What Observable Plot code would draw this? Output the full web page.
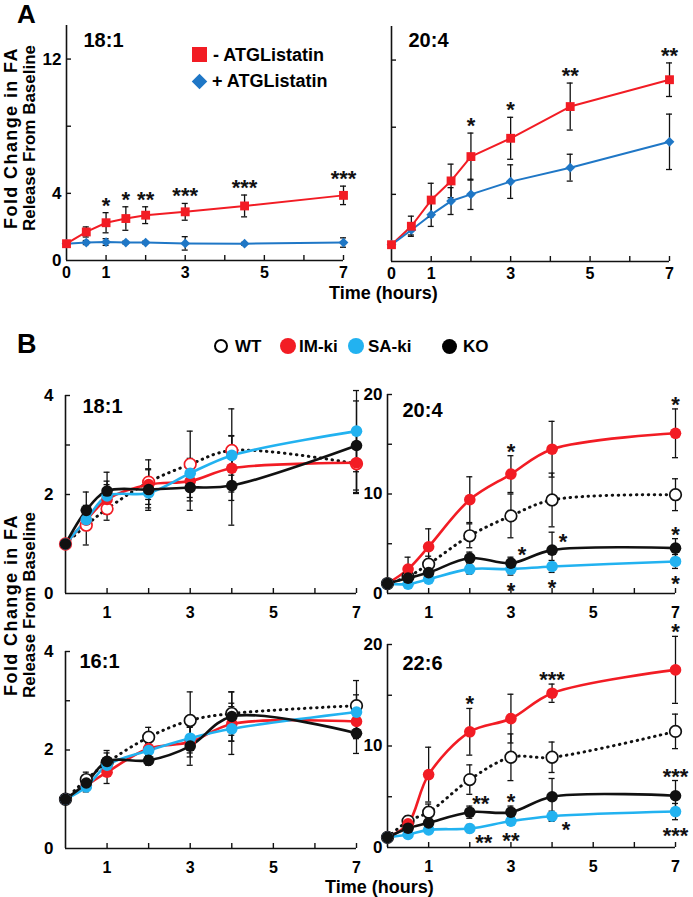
<!DOCTYPE html>
<html><head><meta charset="utf-8">
<script src="https://cdn.jsdelivr.net/npm/d3@7"></script>
<script src="https://cdn.jsdelivr.net/npm/@observablehq/plot@0.6"></script>
<style>
body{margin:0;background:#fff;}
#wrap{position:relative;width:693px;height:897px;overflow:hidden;font-family:"Liberation Sans",Arial,Helvetica,sans-serif;font-weight:bold;color:#000;}
.abs{position:absolute;white-space:nowrap;line-height:1;}
.rot{position:absolute;white-space:nowrap;line-height:1;transform:translate(-50%,-50%) rotate(-90deg);}
</style></head><body><div id="wrap"></div>
<script>
// ---------------- DATA ----------------
// Panel A
const timesA = [0, 0.5, 1, 1.5, 2, 3, 4.5, 7];
const treatA = ["- ATGListatin", "+ ATGListatin"];
const a181Minus    = [1, 1.7, 2.25, 2.5, 2.7, 2.9, 3.25, 3.88];
const a181MinusErr = [0, 0.3, 0.6, 0.7, 0.5, 0.5, 0.65, 0.55];
const a181Plus     = [1, 1.07, 1.1, 1.07, 1.07, 1.02, 1.0, 1.07];
const a181PlusErr  = [0, 0.12, 0.2, 0.08, 0.08, 0.4, 0.08, 0.28];
const a181Stars    = ["", "", "*", "*", "**", "***", "***", "***"];
const a204Minus    = [1, 2.1, 3.66, 4.8, 6.25, 7.34, 9.23, 10.83];
const a204MinusErr = [0, 0.6, 1.0, 1.0, 1.4, 1.25, 1.4, 1.0];
const a204Plus     = [1, 1.88, 2.79, 3.6, 4.0, 4.76, 5.59, 7.13];
const a204PlusErr  = [0, 0.3, 0.7, 0.8, 0.9, 1.0, 0.8, 1.65];
const a204Stars    = ["", "", "", "", "*", "*", "**", "**"];
const aYTicks = [4, 8, 12];
const aYLabels = [0, 4, 12];
const aXTicks = [1, 2, 3, 4, 5, 6, 7];
const aXLabels = [0, 1, 3, 5, 7];

// Panel B
const timesB = [0, 0.5, 1, 2, 3, 4, 7];
const genotypes = ["WT", "IM-ki", "SA-ki", "KO"];
// 18:1
const b181WT    = [1, 1.38, 1.71, 2.25, 2.61, 2.89, 2.62];
const b181WTErr = [0, 0.4, 0.23, 0.45, 0.67, 0.84, 0.6];
const b181IM    = [1, 1.48, 1.9, 2.2, 2.27, 2.53, 2.64];
const b181IMErr = [0, 0.2, 0.3, 0.3, 0.4, 0.65, 0.6];
const b181SA    = [1, 1.49, 1.97, 2.03, 2.43, 2.79, 3.28];
const b181SAErr = [0, 0.2, 0.3, 0.3, 0.3, 0.4, 0.82];
const b181KO    = [1, 1.68, 2.07, 2.1, 2.14, 2.18, 2.99];
const b181KOErr = [0, 0.37, 0.38, 0.42, 0.46, 0.8, 0.9];
// 20:4
const b204WT    = [1, 1.7, 2.95, 5.8, 7.8, 9.4, 9.93];
const b204WTErr = [0, 0.5, 0.8, 1.2, 2.2, 2.7, 1.6];
const b204IM    = [1, 2.45, 4.7, 9.43, 12.0, 14.5, 16.1];
const b204IMErr = [0, 1.2, 1.8, 2.3, 1.85, 2.8, 2.45];
const b204SA    = [1, 0.94, 1.44, 2.45, 2.45, 2.72, 3.22];
const b204SAErr = [0, 0.3, 0.4, 0.5, 0.6, 0.6, 0.7];
const b204KO    = [1, 1.55, 2.1, 3.56, 3.05, 4.36, 4.56];
const b204KOErr = [0, 0.4, 0.5, 0.6, 0.6, 1.8, 0.95];
const b204Stars = [
  [3, "IM-ki", "above", "*"], [3, "KO", "aboveRight", "*"], [3, "SA-ki", "below", "*"],
  [4, "KO", "aboveRight", "*"], [4, "SA-ki", "below", "*"],
  [7, "IM-ki", "above", "*"], [7, "KO", "above", "*"], [7, "SA-ki", "below", "*"]
];
// 16:1
const b161WT    = [1, 1.40, 1.74, 2.26, 2.60, 2.74, 2.9];
const b161WTErr = [0, 0.15, 0.2, 0.2, 0.58, 0.44, 0.51];
const b161IM    = [1, 1.28, 1.55, 2.03, 2.16, 2.53, 2.58];
const b161IMErr = [0, 0.1, 0.23, 0.1, 0.3, 0.35, 0.35];
const b161SA    = [1, 1.25, 1.69, 1.99, 2.24, 2.43, 2.77];
const b161SAErr = [0, 0.1, 0.15, 0.1, 0.3, 0.52, 0.35];
const b161KO    = [1, 1.33, 1.77, 1.79, 2.08, 2.68, 2.34];
const b161KOErr = [0, 0.15, 0.22, 0.1, 0.39, 0.5, 0.41];
// 22:6
const b226WT    = [1, 2.6, 3.48, 6.69, 8.89, 8.89, 11.44];
const b226WTErr = [0, 0.5, 0.8, 1.45, 2.3, 1.5, 1.7];
const b226IM    = [1, 2.33, 7.18, 11.4, 12.7, 15.2, 17.5];
const b226IMErr = [0, 0.6, 2.7, 2.3, 2.4, 0.9, 3.3];
const b226SA    = [1, 1.28, 1.74, 1.87, 2.6, 3.08, 3.54];
const b226SAErr = [0, 0.2, 0.3, 0.4, 0.4, 0.5, 0.8];
const b226KO    = [1, 1.9, 2.43, 3.48, 3.48, 5.0, 5.1];
const b226KOErr = [0, 0.3, 0.5, 0.6, 0.6, 1.8, 1.5];
const b226Stars = [
  [2, "IM-ki", "above", "*"], [2, "KO", "aboveRight", "**"], [3, "KO", "above", "*"],
  [2, "SA-ki", "belowRight", "**"], [3, "SA-ki", "below", "**"],
  [4, "IM-ki", "above", "***"], [4, "SA-ki", "belowRight", "*"],
  [7, "IM-ki", "above", "*"], [7, "KO", "above", "***"], [7, "SA-ki", "below", "***"]
];
const bLeftYTicks = [1, 2, 3, 4];
const bLeftYLabels = [0, 2, 4];
const bRightYTicks = [5, 10, 15, 20];
const bRightYLabels = [0, 10, 20];
const bXTicks = [1, 2, 3, 4, 5, 6, 7];
const bXLabels = [1, 3, 5, 7];

// ---------------- DRAWING ----------------
const FONT = '"Liberation Sans", Arial, Helvetica, sans-serif';
const RED = "#f21c24", BLUE_A = "#1f77c6", CYAN = "#22b2f0", INK = "#111";
const wrap = document.getElementById("wrap");

function rowsOf(times, s, vals, errs, stars) {
  return times.map((t, i) => ({t, s, v: vals[i], e: errs[i], star: stars ? stars[i] : ""}));
}

function makePanel(g, opt) {
  const mL = 60, mR = 25, mT = 30, mB = 45;
  const W = g.R - g.L + mL + mR, H = g.B - g.T + mT + mB;
  const pxX = (g.R - g.L) / 7, pxY = (g.B - g.T) / g.ymax;
  const cap = 3 / pxX;
  const rows = opt.rows;
  const fmt = d => String(d);
  const marks = [
    Plot.ruleY([0], {stroke: INK, strokeWidth: 1.6}),
    Plot.ruleX([0], {stroke: INK, strokeWidth: 1.6}),
    Plot.ruleY(opt.yTicks, {y: d => d, x1: 0, x2: 5 / pxX, stroke: INK, strokeWidth: 1.4}),
    Plot.ruleX(opt.xTicks, {x: d => d, y1: 0, y2: 5 / pxY, stroke: INK, strokeWidth: 1.4}),
    Plot.axisX(opt.xLabels, {tickSize: 0, tickPadding: opt.xPad, label: null, tickFormat: fmt, fontSize: 16})
  ];
  if (opt.yLabels) marks.push(Plot.axisY(opt.yLabels, {tickSize: 0, tickPadding: opt.yPad, label: null, tickFormat: fmt, fontSize: 17}));
  // lines
  for (const L of opt.lines) {
    marks.push(Plot.line(rows.filter(d => d.s === L.s), {x: "t", y: "v", stroke: L.color, strokeWidth: L.w,
      curve: opt.curve, strokeDasharray: L.dash, strokeLinecap: L.dash ? "round" : "butt"}));
  }
  // error bars
  const eb = rows.filter(d => d.e > 0);
  marks.push(Plot.ruleX(eb, {x: "t", y1: d => d.v - d.e, y2: d => d.v + d.e, stroke: INK, strokeWidth: 1.3}));
  marks.push(Plot.ruleY(eb, {y: d => d.v + d.e, x1: d => d.t - cap, x2: d => d.t + cap, stroke: INK, strokeWidth: 1.3}));
  marks.push(Plot.ruleY(eb, {y: d => d.v - d.e, x1: d => d.t - cap, x2: d => d.t + cap, stroke: INK, strokeWidth: 1.3}));
  // markers
  for (const M of opt.markers) {
    marks.push(Plot.dot(rows.filter(d => d.s === M.s), {x: "t", y: "v", symbol: M.symbol, r: M.r,
      fill: M.fill, stroke: M.stroke || "none", strokeWidth: M.sw || 0}));
  }
  // significance stars
  if (opt.starRows) {
    const offs = opt.starOffsets;
    for (const pos of Object.keys(offs)) {
      const sub = opt.starRows.filter(d => d.pos === pos);
      if (!sub.length) continue;
      marks.push(Plot.text(sub, {x: "t", y: "y", text: "label", dx: offs[pos][0], dy: offs[pos][1],
        fontSize: 22, fill: INK}));
    }
  }
  // panel title
  marks.push(Plot.text([opt.title], {text: d => d, frameAnchor: "top-left", textAnchor: "start", lineAnchor: "top",
    dx: opt.tdx, dy: opt.tdy, fontSize: 20, fill: "#000"}));

  const svg = Plot.plot({
    width: W, height: H, marginLeft: mL, marginRight: mR, marginTop: mT, marginBottom: mB,
    x: {domain: [0, 7], axis: null}, y: {domain: [0, g.ymax], axis: null},
    style: {background: "transparent", fontFamily: FONT, fontWeight: "bold", fontSize: "17px", color: "#000", overflow: "visible"},
    marks
  });
  svg.style.position = "absolute";
  svg.style.left = (g.L - mL) + "px";
  svg.style.top = (g.T - mT) + "px";
  svg.style.maxWidth = "none";
  wrap.appendChild(svg);
}

const starOffA = {above: [0, -7]};
const starOffB = {above: [0, -4], below: [0, 16], aboveRight: [11, -8], belowRight: [14, 14]};

function starsA(rows) {
  return rows.filter(d => d.s === treatA[0] && d.star).map(d => ({t: d.t, y: d.v + d.e, label: d.star, pos: "above"}));
}
function starsB(list, rows) {
  return list.map(([t, g, pos, label]) => {
    const r = rows.find(d => d.t === t && d.s === g);
    const y = pos === "above" ? r.v + r.e : pos === "below" ? r.v - r.e : r.v;
    return {t, y, label, pos};
  });
}

// ---- Panel A ----
const aLines = [
  {s: treatA[0], color: RED, w: 2},
  {s: treatA[1], color: BLUE_A, w: 2}
];
const aMarkers = [
  {s: treatA[1], symbol: "diamond2", r: 4.4, fill: BLUE_A},
  {s: treatA[0], symbol: "square", r: 5, fill: RED}
];
const rowsA181 = [...rowsOf(timesA, treatA[0], a181Minus, a181MinusErr, a181Stars), ...rowsOf(timesA, treatA[1], a181Plus, a181PlusErr)];
const rowsA204 = [...rowsOf(timesA, treatA[0], a204Minus, a204MinusErr, a204Stars), ...rowsOf(timesA, treatA[1], a204Plus, a204PlusErr)];

makePanel({L: 66, R: 343, T: 25, B: 260, ymax: 14}, {
  rows: rowsA181, lines: aLines, markers: aMarkers, curve: "linear",
  yTicks: aYTicks, yLabels: aYLabels, yPad: 5, xTicks: aXTicks, xLabels: aXLabels, xPad: 6,
  starRows: starsA(rowsA181), starOffsets: starOffA, title: "18:1", tdx: 17, tdy: 7
});
makePanel({L: 391, R: 669, T: 26, B: 261, ymax: 14}, {
  rows: rowsA204, lines: aLines, markers: aMarkers, curve: "linear",
  yTicks: aYTicks, yLabels: null, xTicks: aXTicks, xLabels: aXLabels, xPad: 6,
  starRows: starsA(rowsA204), starOffsets: starOffA, title: "20:4", tdx: 17, tdy: 6
});

// ---- Panel B ----
function bRows(wt, wtE, im, imE, sa, saE, ko, koE) {
  return [...rowsOf(timesB, "WT", wt, wtE), ...rowsOf(timesB, "IM-ki", im, imE),
          ...rowsOf(timesB, "SA-ki", sa, saE), ...rowsOf(timesB, "KO", ko, koE)];
}
const bLines = [
  {s: "WT", color: INK, w: 3, dash: "0.5,5.5"},
  {s: "IM-ki", color: RED, w: 2.6},
  {s: "SA-ki", color: CYAN, w: 2.6},
  {s: "KO", color: INK, w: 2.6}
];
function bMarkers(wtStroke) {
  return [
    {s: "WT", symbol: "circle", r: 5.8, fill: "#fff", stroke: wtStroke, sw: 1.7},
    {s: "IM-ki", symbol: "circle", r: 5.8, fill: RED},
    {s: "SA-ki", symbol: "circle", r: 5.8, fill: CYAN},
    {s: "KO", symbol: "circle", r: 5.8, fill: INK}
  ];
}
const rowsB181 = bRows(b181WT, b181WTErr, b181IM, b181IMErr, b181SA, b181SAErr, b181KO, b181KOErr);
const rowsB204 = bRows(b204WT, b204WTErr, b204IM, b204IMErr, b204SA, b204SAErr, b204KO, b204KOErr);
const rowsB161 = bRows(b161WT, b161WTErr, b161IM, b161IMErr, b161SA, b161SAErr, b161KO, b161KOErr);
const rowsB226 = bRows(b226WT, b226WTErr, b226IM, b226IMErr, b226SA, b226SAErr, b226KO, b226KOErr);

makePanel({L: 65, R: 356, T: 395, B: 593, ymax: 4}, {
  rows: rowsB181, lines: bLines, markers: bMarkers(RED), curve: "catmull-rom",
  yTicks: bLeftYTicks, yLabels: bLeftYLabels, yPad: 12, xTicks: bXTicks, xLabels: bXLabels, xPad: 13,
  title: "18:1", tdx: 17, tdy: 3
});
makePanel({L: 387, R: 675, T: 394, B: 593, ymax: 20}, {
  rows: rowsB204, lines: bLines, markers: bMarkers(INK), curve: "catmull-rom",
  yTicks: bRightYTicks, yLabels: bRightYLabels, yPad: 5, xTicks: bXTicks, xLabels: bXLabels, xPad: 13,
  starRows: starsB(b204Stars, rowsB204), starOffsets: starOffB, title: "20:4", tdx: 15, tdy: 8
});
makePanel({L: 65, R: 356, T: 651, B: 848, ymax: 4}, {
  rows: rowsB161, lines: bLines, markers: bMarkers(INK), curve: "catmull-rom",
  yTicks: bLeftYTicks, yLabels: bLeftYLabels, yPad: 12, xTicks: bXTicks, xLabels: bXLabels, xPad: 13,
  title: "16:1", tdx: 14, tdy: 2
});
makePanel({L: 387, R: 675, T: 644, B: 847, ymax: 20}, {
  rows: rowsB226, lines: bLines, markers: bMarkers(INK), curve: "catmull-rom",
  yTicks: bRightYTicks, yLabels: bRightYLabels, yPad: 5, xTicks: bXTicks, xLabels: bXLabels, xPad: 13,
  starRows: starsB(b226Stars, rowsB226), starOffsets: starOffB, title: "22:6", tdx: 15, tdy: 11
});

// ---------------- HTML TEXT / LEGENDS ----------------
function addText(txt, left, top, size, extra) {
  const d = document.createElement("div");
  d.className = "abs"; d.textContent = txt;
  d.style.left = left + "px"; d.style.top = top + "px"; d.style.fontSize = size + "px";
  if (extra) Object.assign(d.style, extra);
  wrap.appendChild(d); return d;
}
function addRot(txt, cx, cy, size, spacing) {
  const d = document.createElement("div");
  d.className = "rot"; d.textContent = txt;
  d.style.left = cx + "px"; d.style.top = cy + "px"; d.style.fontSize = size + "px";
  d.style.letterSpacing = spacing + "px";
  wrap.appendChild(d);
}
function addShape(left, top, w, h, style) {
  const d = document.createElement("div");
  d.style.position = "absolute"; d.style.left = left + "px"; d.style.top = top + "px";
  d.style.width = w + "px"; d.style.height = h + "px"; d.style.boxSizing = "border-box";
  Object.assign(d.style, style); wrap.appendChild(d);
}

addText("A", 17, 1, 26);
addText("B", 17, 331, 27);

// y labels
for (const cy of [138, 605]) {
  addRot("Fold Change in FA", 11, cy, 18, 1.4);
  addRot("Release From Baseline", 29, cy, 17, 0);
}
addText("Time (hours)", 329, 284, 18);
addText("Time (hours)", 325, 878, 18);

// Legend A
addShape(192, 47, 15, 15, {background: RED});
addText(treatA[0], 213, 46, 18);
addShape(194, 75.5, 11, 11, {background: BLUE_A, transform: "rotate(45deg)"});
addText(treatA[1], 212, 72, 18);

// Legend B
const legB = [
  {g: genotypes[0], x: 214, tx: 235, style: {border: "2px solid #000", background: "#fff", borderRadius: "50%"}, s: 14},
  {g: genotypes[1], x: 280, tx: 299, style: {background: RED, borderRadius: "50%"}, s: 16},
  {g: genotypes[2], x: 348, tx: 368, style: {background: CYAN, borderRadius: "50%"}, s: 16},
  {g: genotypes[3], x: 442, tx: 463, style: {background: "#000", borderRadius: "50%"}, s: 15}
];
for (const it of legB) {
  addShape(it.x, 346 - it.s / 2, it.s, it.s, it.style);
  addText(it.g, it.tx, 337.5, 17);
}
</script></body></html>
